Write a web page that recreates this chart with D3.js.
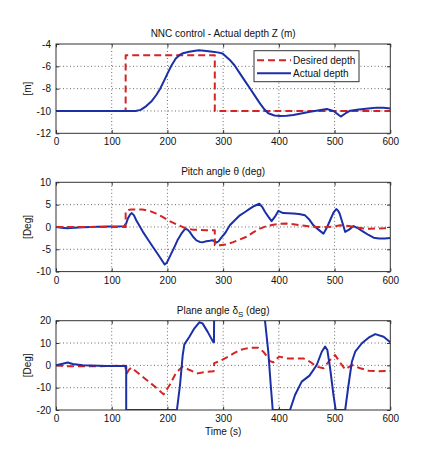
<!DOCTYPE html>
<html>
<head>
<meta charset="utf-8">
<script src="https://cdn.jsdelivr.net/npm/d3@7"></script>
<style>
  html, body { margin: 0; padding: 0; background: #fff; }
  svg { display: block; }
  text { font-family: "Liberation Sans", Arial, sans-serif; fill: #111; }
</style>
</head>
<body>
<svg id="chart" width="431" height="461"></svg>
<script>
// ---------------- data ----------------
const xTicks = [0, 100, 200, 300, 400, 500, 600];

// Panel 1: depth
const depthTicks = [-12, -10, -8, -6, -4];
const desiredDepthT = [0, 125, 125, 285, 285, 600];
const desiredDepthV = [-10, -10, -5, -5, -10, -10];
const actualDepthT = [0, 20, 143, 152, 162, 172, 180, 187, 192, 200, 207, 215, 222, 228, 239, 250, 257, 270, 281, 290, 299, 312, 321, 330, 339, 348, 357, 366, 374, 381, 392, 402, 414, 426, 440, 456, 470, 486, 498, 511, 520, 528, 540, 552, 565, 576, 588, 600];
const actualDepthV = [-10, -10, -10, -9.9, -9.56, -9.1, -8.57, -8.0, -7.5, -6.65, -5.95, -5.3, -4.98, -4.82, -4.69, -4.6, -4.57, -4.62, -4.69, -4.75, -4.85, -5.43, -5.95, -6.63, -7.3, -7.97, -8.65, -9.32, -9.85, -10.2, -10.4, -10.45, -10.42, -10.36, -10.22, -10.06, -9.95, -9.83, -10.0, -10.5, -10.2, -9.97, -9.9, -9.83, -9.75, -9.7, -9.72, -9.77];

// Panel 2: pitch
const pitchTicks = [-10, -5, 0, 5, 10];
const desiredPitchT = [0, 125, 125, 130, 135, 155, 170, 180, 192, 204, 216, 227, 236, 245, 260, 270, 285, 285, 294, 306, 318, 330, 342, 354, 366, 378, 390, 402, 414, 426, 438, 450, 462, 474, 486, 498, 510, 520, 528, 540, 552, 564, 576, 588, 600];
const desiredPitchV = [0, 0, 3.4, 3.8, 3.9, 3.9, 3.5, 3.0, 2.2, 1.3, 0.6, 0, -0.4, -0.6, -0.7, -0.75, -0.75, -4.1, -4.1, -3.9, -3.4, -2.8, -2.2, -1.2, -0.37, 0.2, 0.5, 0.7, 0.75, 0.6, 0.37, 0.2, 0, 0, 0, 0.1, 0.37, 0.3, 0.15, -0.1, -0.37, -0.4, -0.35, -0.3, -0.2];
const actualPitchT = [0, 10, 20, 40, 60, 90, 122, 126, 129, 133, 136, 140, 144, 150, 156, 165, 174, 185, 195, 199, 204, 211, 218, 225, 232, 236, 240, 246, 252, 258, 264, 270, 276, 281, 285, 288, 292, 296, 304, 312, 320, 330, 340, 348, 356, 365, 370, 375, 381, 387, 393, 399, 404, 408, 417, 426, 436, 447, 455, 462, 471, 480, 486, 492, 498, 503, 506, 509, 514, 519, 526, 534, 543, 552, 561, 570, 580, 590, 600];
const actualPitchV = [0, -0.2, -0.3, -0.15, 0, 0.1, 0.15, 0.8, 1.9, 2.8, 3.1, 2.6, 1.5, 0.2, -1.1, -2.8, -4.5, -6.5, -8.4, -8.0, -6.7, -4.9, -3.0, -1.5, -0.4, -0.6, -1.1, -2.2, -3.0, -3.35, -3.4, -3.2, -3.1, -3.0, -3.2, -3.5, -3.2, -2.5, -1.3, 0.37, 1.4, 2.6, 3.4, 4.1, 4.7, 5.2, 4.5, 3.4, 2.3, 1.3, 2.3, 3.6, 3.3, 3.1, 3.05, 3.0, 2.9, 2.6, 1.6, 0.37, -0.6, -1.5, -0.2, 1.5, 3.2, 4.0, 3.7, 3.0, 1.0, -1.1, -0.6, 0.2, -0.4, -1.1, -1.8, -2.4, -2.6, -2.6, -2.5];

// Panel 3: plane angle
const planeTicks = [-20, -10, 0, 10, 20];
const desiredPlaneT = [0, 15, 40, 100, 124, 127, 131, 135, 150, 165, 180, 193, 204, 215, 221, 227, 233, 240, 254, 269, 283, 284, 294, 305, 318, 330, 342, 354, 363, 372, 378, 384, 390, 396, 401, 414, 430, 444, 456, 468, 480, 492, 501, 509, 519, 531, 546, 561, 576, 600];
const desiredPlaneV = [0, -0.4, -0.45, -0.3, -0.15, -3.6, -2.0, -1.0, -4.0, -7.0, -10.0, -13, -8.8, -3.6, -2.0, -0.6, -1.3, -2.1, -3.6, -2.9, -2.6, 1.0, 1.9, 3.4, 5.2, 6.9, 7.6, 7.9, 7.9, 6.1, 4.2, 1.9, 1.4, 3.0, 3.9, 3.1, 3.1, 3.1, 1.6, -0.6, -1.3, 2.4, 4.6, 1.6, -1.8, 0.15, -1.3, -2.4, -2.6, -2.5];
const actualPlaneT = [0, 10, 21, 30, 48, 90, 123, 126, 126, 217, 222.6, 227.4, 230.4, 239.4, 248.4, 257.3, 263, 272, 282.5, 283.5, 284, 372, 375, 381, 385.4, 389, 420, 429, 441, 455, 468, 477, 483, 487, 492, 498, 502, 519, 525, 531, 537, 549, 561, 573, 588, 600];
const actualPlaneV = [0, 0.6, 1.3, 0.6, 0, -0.3, -0.3, -0.3, -20, -20, -8.8, 4.6, 9.4, 12.8, 16.6, 19.3, 18.8, 15.1, 10.3, 10.3, 30, 30, 20.3, 6.1, -8.8, -20, -20, -13.3, -7.3, -4.6, 0.15, 6.1, 8.4, 6.9, -1.3, -13.3, -20, -20, -8.8, 1.6, 6.1, 9.9, 12.4, 14, 12.8, 10.3];

const legendLabels = ["Desired depth", "Actual depth"];

// ---------------- layout / style ----------------
const RED = "#d42424";
const BLUE = "#1b2fa6";
const FS = "10px";
const plotLeft = 56, plotRight = 390.3, plotH = 89.3;

const svg = d3.select("#chart");
const x = d3.scaleLinear().domain([0, 600]).range([plotLeft, plotRight]);

function zip(t, v) { return t.map((d, i) => [d, v[i]]); }

const panels = [
  {
    id: "p1", top: 44, domain: [-12, -4], ticks: depthTicks, ylabel: "[m]",
    title: [{ t: "NNC control - Actual depth Z (m)" }],
    series: [
      { data: zip(desiredDepthT, desiredDepthV), color: RED, dash: "7,4" },
      { data: zip(actualDepthT, actualDepthV), color: BLUE, dash: null }
    ],
    legend: true
  },
  {
    id: "p2", top: 182.3, domain: [-10, 10], ticks: pitchTicks, ylabel: "[Deg]",
    title: [{ t: "Pitch angle \u03B8 (deg)" }],
    series: [
      { data: zip(actualPitchT, actualPitchV), color: BLUE, dash: null },
      { data: zip(desiredPitchT, desiredPitchV), color: RED, dash: "7,4" }
    ]
  },
  {
    id: "p3", top: 320.7, domain: [-20, 20], ticks: planeTicks, ylabel: "[Deg]",
    title: [{ t: "Plane angle \u03B4" }, { t: "S", sub: true }, { t: " (deg)" }],
    series: [
      { data: zip(desiredPlaneT, desiredPlaneV), color: RED, dash: "7,4" },
      { data: zip(actualPlaneT, actualPlaneV), color: BLUE, dash: null }
    ],
    xlabel: "Time (s)"
  }
];

panels.forEach(p => {
  const y = d3.scaleLinear().domain(p.domain).range([p.top + plotH, p.top]);
  const g = svg.append("g");

  svg.append("clipPath").attr("id", "clip-" + p.id)
    .append("rect").attr("x", plotLeft).attr("y", p.top)
    .attr("width", plotRight - plotLeft).attr("height", plotH);

  g.append("rect").attr("x", plotLeft).attr("y", p.top)
    .attr("width", plotRight - plotLeft).attr("height", plotH)
    .attr("fill", "#fff");

  // grid
  const grid = g.append("g").attr("stroke", "#444").attr("stroke-width", 0.8)
    .attr("stroke-dasharray", "1,2.5");
  xTicks.slice(1, -1).forEach(t => {
    grid.append("line").attr("x1", x(t)).attr("x2", x(t))
      .attr("y1", p.top).attr("y2", p.top + plotH);
  });
  p.ticks.slice(1, -1).forEach(t => {
    grid.append("line").attr("x1", plotLeft).attr("x2", plotRight)
      .attr("y1", y(t)).attr("y2", y(t));
  });

  // axes with inward ticks
  const xAxis = d3.axisBottom(x).tickValues(xTicks).tickSizeInner(-3.3).tickSizeOuter(0)
    .tickPadding(5).tickFormat(d => String(d));
  const yAxis = d3.axisLeft(y).tickValues(p.ticks).tickSizeInner(-3.3).tickSizeOuter(0)
    .tickPadding(5).tickFormat(d => String(d));
  const xTop = d3.axisTop(x).tickValues(xTicks).tickSizeInner(-3.3).tickSizeOuter(0).tickFormat("");
  const yRight = d3.axisRight(y).tickValues(p.ticks).tickSizeInner(-3.3).tickSizeOuter(0).tickFormat("");

  function styleAxis(sel) {
    sel.select(".domain").remove();
    sel.selectAll("line").attr("stroke", "#333");
    sel.selectAll("text").attr("font-size", FS)
      .attr("font-family", "'Liberation Sans', Arial, sans-serif").attr("fill", "#111");
  }
  g.append("g").attr("transform", `translate(0,${p.top + plotH})`).call(xAxis).call(styleAxis);
  g.append("g").attr("transform", `translate(${plotLeft},0)`).call(yAxis).call(styleAxis);
  g.append("g").attr("transform", `translate(0,${p.top})`).call(xTop).call(styleAxis);
  g.append("g").attr("transform", `translate(${plotRight},0)`).call(yRight).call(styleAxis);

  // series
  const line = d3.line().x(d => x(d[0])).y(d => y(d[1]));
  const sg = g.append("g").attr("clip-path", `url(#clip-${p.id})`);
  p.series.forEach(s => {
    sg.append("path").datum(s.data).attr("d", line)
      .attr("fill", "none").attr("stroke", s.color).attr("stroke-width", 2)
      .attr("stroke-linejoin", "round")
      .attr("stroke-dasharray", s.dash);
  });

  // box
  g.append("rect").attr("x", plotLeft).attr("y", p.top)
    .attr("width", plotRight - plotLeft).attr("height", plotH)
    .attr("fill", "none").attr("stroke", "#333").attr("stroke-width", 1);

  // title
  const title = g.append("text").attr("x", (plotLeft + plotRight) / 2).attr("y", p.top - 7)
    .attr("text-anchor", "middle").attr("font-size", FS);
  p.title.forEach((part, i) => {
    const ts = title.append("tspan").text(part.t);
    if (part.sub) ts.attr("font-size", "8px").attr("dy", 3);
    else if (i > 0 && p.title[i - 1].sub) ts.attr("dy", -3);
  });

  // y label
  g.append("text").attr("transform", `translate(31,${p.top + plotH / 2}) rotate(-90)`)
    .attr("text-anchor", "middle").attr("font-size", FS).text(p.ylabel);

  if (p.xlabel) {
    g.append("text").attr("x", (plotLeft + plotRight) / 2).attr("y", p.top + plotH + 25)
      .attr("text-anchor", "middle").attr("font-size", FS).text(p.xlabel);
  }

  if (p.legend) {
    const lx = 254, ly = 50.7, lw = 105, lh = 31;
    const lg = g.append("g");
    lg.append("rect").attr("x", lx).attr("y", ly).attr("width", lw).attr("height", lh)
      .attr("fill", "#fff").attr("stroke", "#333").attr("stroke-width", 1);
    legendLabels.forEach((lab, i) => {
      const s = p.series[i];
      const yy = ly + 9.5 + i * 13;
      lg.append("line").attr("x1", lx + 3).attr("x2", lx + 37).attr("y1", yy).attr("y2", yy)
        .attr("stroke", s.color).attr("stroke-width", 2)
        .attr("stroke-dasharray", s.dash);
      lg.append("text").attr("x", lx + 39).attr("y", yy + 3.6).attr("font-size", FS).text(lab);
    });
  }
});
</script>
</body>
</html>
